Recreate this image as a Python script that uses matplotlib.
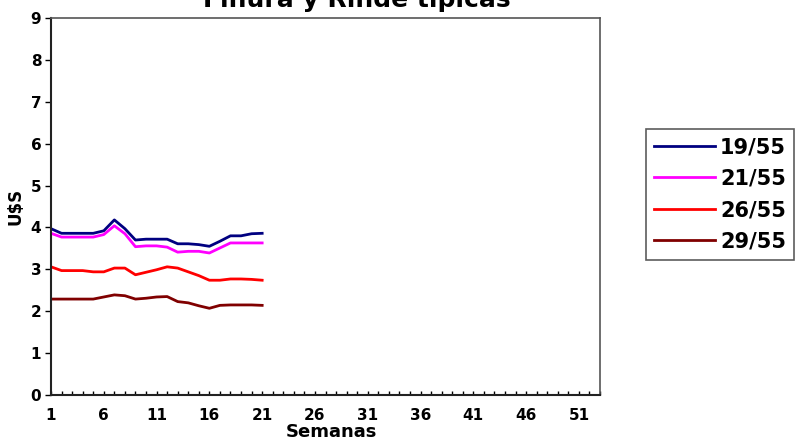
import numpy as np
import matplotlib.pyplot as plt

weeks = np.arange(1, 22)
s19 = [3.97, 3.86, 3.86, 3.86, 3.86, 3.92, 4.18, 3.97, 3.70, 3.72, 3.72,
       3.72, 3.61, 3.61, 3.59, 3.55, 3.67, 3.80, 3.80, 3.85, 3.86]
s21 = [3.86, 3.77, 3.77, 3.77, 3.77, 3.83, 4.04, 3.85, 3.54, 3.56, 3.56,
       3.53, 3.41, 3.43, 3.43, 3.39, 3.51, 3.63, 3.63, 3.63, 3.63]
s26 = [3.06, 2.97, 2.97, 2.97, 2.94, 2.94, 3.03, 3.03, 2.87, 2.93, 2.99,
       3.06, 3.03, 2.94, 2.85, 2.74, 2.74, 2.77, 2.77, 2.76, 2.74]
s29 = [2.29, 2.29, 2.29, 2.29, 2.29, 2.34, 2.39, 2.37, 2.29, 2.31, 2.34,
       2.35, 2.23, 2.20, 2.13, 2.07, 2.14, 2.15, 2.15, 2.15, 2.14]
labels = ['19/55', '21/55', '26/55', '29/55']
colors = ['#000080', '#ff00ff', '#ff0000', '#800000']

fig = plt.figure(figsize=(8.06, 4.37), dpi=100)
ax = fig.add_axes([51 / 806, 1 - 395 / 437, 549 / 806, 377 / 437])

for vals, lab, col in zip([s19, s21, s26, s29], labels, colors):
    ax.plot(weeks, vals, color=col, lw=2, label=lab)

ax.set_xlim(1, 53)
ax.set_ylim(0, 9)
ax.set_xticks(np.arange(1, 53, 5))
ax.set_xticks(np.arange(1, 54), minor=True)
ax.set_yticks(range(0, 10))
ax.tick_params(axis='x', which='both', direction='in', length=3, width=1, pad=9,
               labelsize=11)
ax.tick_params(axis='y', direction='out', length=4, width=1, pad=3, labelsize=11)
for t in ax.get_xticklabels() + ax.get_yticklabels():
    t.set_fontweight('bold')

for side in ['left', 'bottom']:
    ax.spines[side].set_linewidth(1.5)
    ax.spines[side].set_color('#222222')
for side in ['top', 'right']:
    ax.spines[side].set_linewidth(1.2)
    ax.spines[side].set_color('#555555')

# axis titles sit where the original puts them, partly cut by the figure edge
fig.text(331 / 806, 1 - 437 / 437, 'Semanas', fontsize=13, fontweight='bold',
         ha='center', va='baseline')
ax.set_ylabel('U$S', fontsize=12, fontweight='bold', labelpad=4)
fig.text(357 / 806, 1 - 6.5 / 437, 'Finura y Rinde típicas', fontsize=18,
         fontweight='bold', ha='center', va='baseline', color='#000000')

leg = ax.legend(loc='upper left', bbox_to_anchor=(646 / 806, 1 - 129 / 437),
                bbox_transform=fig.transFigure, frameon=True, fancybox=False,
                prop={'weight': 'bold', 'size': 15}, handlelength=2.9,
                handletextpad=0.25, labelspacing=0.55, borderpad=0.4,
                borderaxespad=0)
leg.get_frame().set_edgecolor('#333333')
leg.get_frame().set_linewidth(1.2)

fig.savefig('out.png', dpi=100)
